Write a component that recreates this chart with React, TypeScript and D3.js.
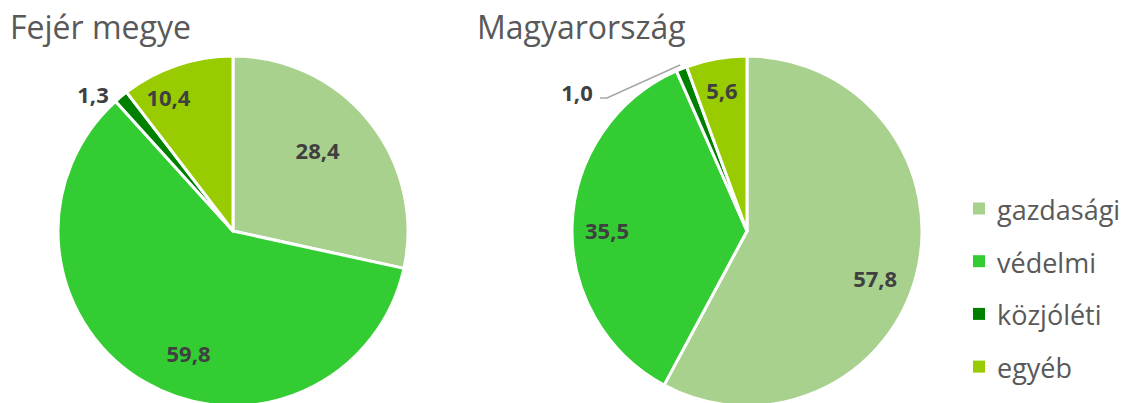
import React from "react";
import * as d3 from "d3";

const categories = ["gazdasági", "védelmi", "közjóléti", "egyéb"];
const colors = ["#A9D18E", "#33CC33", "#008000", "#99CC00"];

const fejerTitle = "Fejér megye";
const fejerValues = [28.4, 59.8, 1.3, 10.4];
const fejerLabels = ["28,4", "59,8", "1,3", "10,4"];

const hunTitle = "Magyarország";
const hunValues = [57.8, 35.5, 1.0, 5.6];
const hunLabels = ["57,8", "35,5", "1,0", "5,6"];

// label placement (style config): radius factor + angle offset deg, or outside position
type LabelPos = { f: number; da: number; outside?: { x: number; y: number; anchor: string; leader?: boolean } };

const fejerLabelPos: LabelPos[] = [
  { f: 0.67, da: -5 },
  { f: 0.74, da: -10 },
  { f: 0, da: 0, outside: { x: 93, y: 94, anchor: "middle" } },
  { f: 0.85, da: -7 },
];
const hunLabelPos: LabelPos[] = [
  { f: 0.78, da: 6 },
  { f: 0.8, da: -2 },
  { f: 0, da: 0, outside: { x: 577, y: 92, anchor: "middle", leader: true } },
  { f: 0.82, da: 0 },
];

const W = 1125;
const H = 403;
const R = 175;

function Pie({ cx, cy, values, labels, pos, title, titleX }: any) {
  const pie = d3.pie<number>().sort(null).value((d) => d)(values);
  const arc = d3.arc<d3.PieArcDatum<number>>().innerRadius(0).outerRadius(R);
  return (
    <g>
      <text x={titleX} y={39} fontSize={32} fill="#595959" fontFamily="'Open Sans', sans-serif">
        {title}
      </text>
      <g transform={`translate(${cx},${cy})`}>
        {pie.map((p, i) => (
          <path key={i} d={arc(p) || ""} fill={colors[i]} stroke="#fff" strokeWidth={3} strokeLinejoin="round" />
        ))}
      </g>
      {pie.map((p, i) => {
        const lp: LabelPos = pos[i];
        if (lp.outside) {
          const o = lp.outside;
          const mid = (p.startAngle + p.endAngle) / 2;
          const ex = cx + Math.sin(mid) * (R + 4);
          const ey = cy - Math.cos(mid) * (R + 4);
          return (
            <g key={i}>
              {o.leader && (
                <polyline
                  points={`${o.x + 23},${o.y + 6} ${o.x + 30},${o.y + 6} ${ex},${ey}`}
                  fill="none"
                  stroke="#A6A6A6"
                  strokeWidth={1.5}
                />
              )}
              <text x={o.x} y={o.y} textAnchor={o.anchor} dominantBaseline="central" fontSize={22} fontWeight={700}
                fill="#404040" fontFamily="'Open Sans', sans-serif">
                {labels[i]}
              </text>
            </g>
          );
        }
        const mid = (p.startAngle + p.endAngle) / 2 + (lp.da * Math.PI) / 180;
        const x = cx + Math.sin(mid) * R * lp.f;
        const y = cy - Math.cos(mid) * R * lp.f;
        return (
          <text key={i} x={x} y={y} textAnchor="middle" dominantBaseline="central" fontSize={22} fontWeight={700}
            fill="#404040" fontFamily="'Open Sans', sans-serif">
            {labels[i]}
          </text>
        );
      })}
    </g>
  );
}

export default function App() {
  return (
    <svg width={W} height={H} style={{ position: "absolute", left: 0, top: 0, background: "#fff" }}>
      <Pie cx={233} cy={231} values={fejerValues} labels={fejerLabels} pos={fejerLabelPos} title={fejerTitle} titleX={10} />
      <Pie cx={747} cy={231} values={hunValues} labels={hunLabels} pos={hunLabelPos} title={hunTitle} titleX={477} />
      <g>
        {categories.map((c, i) => (
          <g key={c} transform={`translate(973,${208.5 + i * 52.7})`}>
            <rect x={0} y={-6} width={12} height={12} fill={colors[i]} />
            <text x={24} y={1} dominantBaseline="central" fontSize={27} fill="#595959" fontFamily="'Open Sans', sans-serif">
              {c}
            </text>
          </g>
        ))}
      </g>
    </svg>
  );
}
